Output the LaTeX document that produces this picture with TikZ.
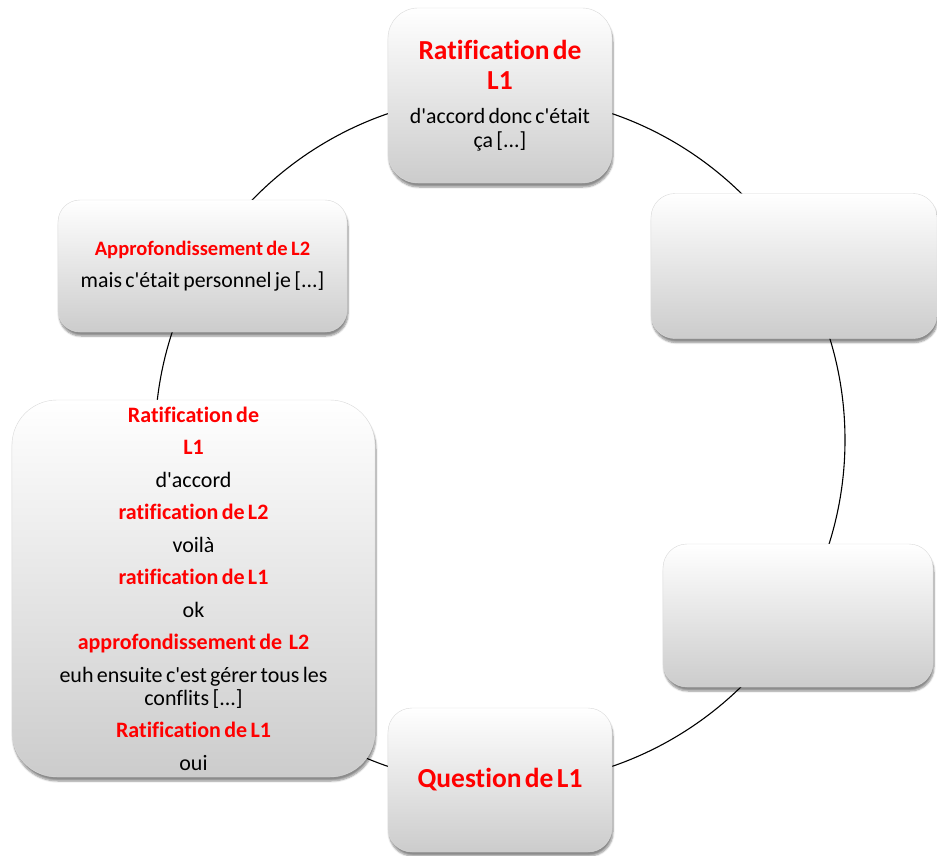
\documentclass[tikz,border=0pt]{standalone}
\usepackage{fontspec}
\setmainfont{Carlito}[Ligatures={NoCommon,NoContextual}]
\usetikzlibrary{shadows.blur}
\tikzset{
	etape/.style={rounded corners=#1, top color=white, middle color=gray!5, bottom color=gray!40,
		draw=gray!30, line width=.4pt, align=center, inner sep=0pt,
		blur shadow={shadow xshift=1pt, shadow yshift=-4pt, shadow blur steps=6, shadow opacity=45}},
}
\newcommand{\rouge}[1]{{\bfseries\color{red}#1}}
\newcommand{\grand}{\fontsize{27.5}{30}\selectfont}
\newcommand{\corps}{\fontsize{21.8}{24}\selectfont}
\newcommand{\apos}{\textquotesingle}
\newcommand{\alinea}{\par\vspace{9.5pt}}
\begin{document}
\begin{tikzpicture}[x=1pt, y=-1pt]
		\useasboundingbox (0,0) rectangle (937,856);
		% the cycle
		\coordinate (centre) at (500,440);
		\draw[line width=1.1pt] (centre) circle (345pt);
		% top box
		\node[etape=30pt, minimum width=224pt, minimum height=175pt, text width=215pt] (ratif) at (500,95.5)
			{{\grand\rouge{Ratification de\\ L1}\par}\vspace{10.5pt}{\corps d\apos accord donc c\apos était\\ ça [...]\par}\vspace{-5pt}};
		% upper left box
		\node[etape=22pt, minimum width=289pt, minimum height=132pt, text width=285pt] (approf) at (202.5,266)
			{{\fontsize{20.5}{24}\selectfont\rouge{Approfondissement de L2}\par}\vspace{7.5pt}{\corps mais c\apos était personnel je [...]\par}\vspace{-6pt}};
		% right boxes, empty
		\node[etape=24pt, minimum width=286pt, minimum height=145pt] (videA) at (794,266) {};
		\node[etape=24pt, minimum width=270pt, minimum height=143pt] (videB) at (798,615.5) {};
		% bottom box
		\node[etape=24pt, minimum width=224pt, minimum height=144pt, text width=220pt] (question) at (500,780)
			{\grand\rouge{Question de L1}};
		% left box, the exchange
		\node[etape=45pt, minimum width=363pt, minimum height=377pt, text width=345pt] (echange) at (193.5,588.5)
			{\fontsize{22}{23}\selectfont
			\rouge{Ratification de}\alinea
			\rouge{L1}\alinea
			d\apos accord\alinea
			\rouge{ratification de L2}\alinea
			voilà\alinea
			\rouge{ratification de L1}\alinea
			ok\alinea
			\rouge{approfondissement de\ \ L2}\alinea
			euh ensuite c\apos est gérer tous les\\ conflits [...]\alinea
			\rouge{Ratification de L1}\alinea
			oui\par};
	\end{tikzpicture}
\end{document}
